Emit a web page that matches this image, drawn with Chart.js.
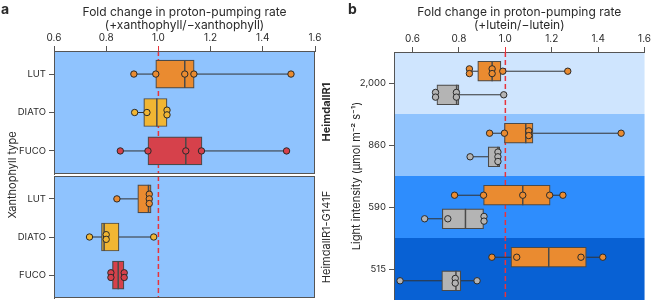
<!DOCTYPE html>
<html><head><meta charset="utf-8">
<script src="https://cdn.jsdelivr.net/npm/chart.js@4.4.1/dist/chart.umd.min.js"></script>
<style>
html,body{margin:0;padding:0;background:#fff;}
#wrap{position:relative;width:653px;height:300px;overflow:hidden;font-family:Inter,'Liberation Sans',sans-serif;color:#2a2a2a;}
.box{position:absolute;}
.box canvas{display:block;}
.rw{position:absolute;width:0;height:0;}
.rw div{position:absolute;left:-150px;top:-7px;width:300px;text-align:center;white-space:nowrap;line-height:14px;transform:rotate(-90deg);transform-origin:150px 7px;}
.lab{position:absolute;font-weight:700;font-size:14px;line-height:1;}
</style></head><body>
<div id="wrap">
  <div class="box" style="left:0;top:0;width:330px;height:175px"><canvas id="ca1" width="330" height="175"></canvas></div>
  <div class="box" style="left:0;top:175px;width:330px;height:125px"><canvas id="ca2" width="330" height="125"></canvas></div>
  <div class="box" style="left:330px;top:0;width:323px;height:300px"><canvas id="cb" width="323" height="300"></canvas></div>
  <div class="lab" style="left:1px;top:2px">a</div>
  <div class="lab" style="left:348px;top:2px">b</div>
  <div class="rw" style="left:12px;top:175px;font-size:11px"><div>Xanthophyll type</div></div>
  <div class="rw" style="left:326px;top:112px;font-size:11px;font-weight:700"><div id="s1"></div></div>
  <div class="rw" style="left:326px;top:237px;font-size:11px"><div id="s2"></div></div>
</div>
<script>
// ---------- data ----------
const xTickVals = [0.6, 0.8, 1.0, 1.2, 1.4, 1.6];
const xTickLabels = ['0.6', '0.8', '1.0', '1.2', '1.4', '1.6'];
const xanthophylls = ['LUT', 'DIATO', 'FUCO'];
const strains = ['HeimdallR1', 'HeimdallR1-G141F'];
const titleA = ['Fold change in proton-pumping rate', '(+xanthophyll/−xanthophyll)'];
const titleB = ['Fold change in proton-pumping rate', '(+lutein/−lutein)'];
const yTitleB = 'Light intensity (µmol m⁻² s⁻¹)';

// HeimdallR1 (box stats and individual points per xanthophyll)
const wtMin = [0.906, 0.909, 0.854];
const wtQ1 = [0.990, 0.944, 0.960];
const wtMed = [1.101, 0.994, 1.105];
const wtQ3 = [1.137, 1.033, 1.167];
const wtMax = [1.508, 1.033, 1.491];
const wtPoints = [
  [0.906, 0.990, 1.101, 1.136, 1.508],
  [0.909, 0.956, 1.033, 1.033],
  [0.854, 0.960, 1.105, 1.165, 1.491]
];

// HeimdallR1-G141F
const mutMin = [0.841, 0.736, 0.818];
const mutQ1 = [0.921, 0.782, 0.824];
const mutMed = [0.962, 0.792, 0.846];
const mutQ3 = [0.972, 0.849, 0.868];
const mutMax = [0.972, 0.982, 0.869];
const mutPoints = [
  [0.841, 0.965, 0.965, 0.965],
  [0.736, 0.800, 0.800, 0.982],
  [0.818, 0.818, 0.869, 0.869]
];

// Panel b: light intensities
const intensities = ['2,000', '860', '590', '515'];
// orange boxes
const orMin = [0.845, 0.932, 0.781, 0.942];
const orQ1 = [0.881, 0.996, 0.906, 1.024];
const orMed = [0.943, 1.088, 1.075, 1.187];
const orQ3 = [0.981, 1.119, 1.193, 1.349];
const orMax = [1.269, 1.499, 1.248, 1.420];
const orPoints = [
  [0.845, 0.845, 0.943, 0.943, 0.989, 1.269],
  [0.932, 0.996, 1.101, 1.101, 1.499],
  [0.781, 0.906, 1.075, 1.191, 1.248],
  [0.942, 1.049, 1.326, 1.420]
];
// grey boxes
const grMin = [0.699, 0.848, 0.652, 0.546];
const grQ1 = [0.705, 0.926, 0.728, 0.726];
const grMed = [0.790, 0.968, 0.828, 0.787];
const grQ3 = [0.800, 0.976, 0.906, 0.808];
const grMax = [0.993, 0.976, 0.906, 0.878];
const grPoints = [
  [0.699, 0.699, 0.789, 0.789, 0.993],
  [0.848, 0.968, 0.968, 0.968],
  [0.652, 0.752, 0.908, 0.908],
  [0.546, 0.784, 0.784, 0.878]
];

// ---------- styles ----------
const xanthColors = ['#EA8B30', '#F1B633', '#D6414B'];
const orangeColor = '#EA8B30';
const greyColor = '#B4B4B4';
const panelBg = '#8FC3FE';
const bandColors = ['#CFE5FE', '#8FC3FE', '#2E8DFD', '#0861D4'];
const refRed = '#E8333C';
const edge = '#4A4A4A';
const axisGrey = '#555555';
const textCol = '#2a2a2a';

document.getElementById('s1').textContent = strains[0];
document.getElementById('s2').textContent = strains[1];

Chart.defaults.font.family = "Inter, 'Liberation Sans', sans-serif";
Chart.defaults.color = textCol;

function dodge(values, step) {
  const groups = {};
  values.forEach((v, i) => { const k = v.toFixed(3); (groups[k] = groups[k] || []).push(i); });
  const off = new Array(values.length).fill(0);
  Object.values(groups).forEach(idx => idx.forEach((i, j) => { off[i] = (j - (idx.length - 1) / 2) * step; }));
  return off;
}

function boxDatasets(o) {
  const ds = [];
  o.pos.forEach((p, i) => {
    ds.push({type: 'line', showLine: true, data: [{x: o.mins[i], y: p}, {x: o.maxs[i], y: p}],
      borderColor: '#333', borderWidth: 1, pointRadius: 0, order: 3});
  });
  ds.push({type: 'bar', indexAxis: 'y', grouped: false, barThickness: o.thick,
    data: o.pos.map((p, i) => ({x: [o.q1s[i], o.q3s[i]], y: p})),
    backgroundColor: o.colors, borderColor: edge, borderWidth: 1.2, borderSkipped: false, order: 2});
  ds.push({type: 'scatter', data: o.pos.map((p, i) => ({x: o.meds[i], y: p})),
    pointStyle: 'line', rotation: 90, pointRadius: o.thick / 2, borderColor: edge, borderWidth: 1.5, order: 1});
  o.pos.forEach((p, i) => {
    const off = dodge(o.points[i], o.step);
    ds.push({type: 'scatter', data: o.points[i].map((v, j) => ({x: v, y: p + off[j]})),
      pointRadius: 3.2, backgroundColor: o.colors[i], borderColor: '#2a2a2a', borderWidth: 1, order: 0});
  });
  return ds;
}

function refLine(y0, y1) {
  return {type: 'line', showLine: true, data: [{x: 1, y: y0}, {x: 1, y: y1}], borderColor: refRed,
    borderWidth: 1.5, borderDash: [5, 3], pointRadius: 0, order: 4};
}

function tickColor(ctx) { return ctx.tick && Math.abs(ctx.tick.value - 1) < 1e-9 ? refRed : axisGrey; }

function xScale(min, show, height, title) {
  return {type: 'linear', position: 'top', min: min, max: 1.6, display: show, offset: false, grace: 0,
    afterBuildTicks: s => { s.ticks = xTickVals.map(v => ({value: v})); },
    afterFit: s => { s.height = height; s.paddingTop = 0; s.paddingBottom = 0; },
    title: {display: !!title, text: title || '', color: textCol, font: {size: 12, lineHeight: 1.08}, padding: {top: 5.5, bottom: 0}},
    ticks: {callback: (v) => xTickLabels[xTickVals.findIndex(t => Math.abs(t - v) < 1e-9)], font: {size: 10}, padding: 2, maxRotation: 0, autoSkip: false},
    grid: {drawOnChartArea: false, tickLength: 5, color: tickColor, lineWidth: 1, offset: false},
    border: {color: axisGrey, width: 1}};
}

function yScale(min, max, labels, width, title, titlePad) {
  return {type: 'linear', reverse: true, min: min, max: max, offset: false, grace: 0,
    afterBuildTicks: s => { s.ticks = labels.map((l, i) => ({value: i})); },
    afterFit: s => { s.width = width; s.paddingTop = 0; s.paddingBottom = 0; },
    title: {display: !!title, text: title || '', color: textCol, font: {size: 11, lineHeight: 1.2}, padding: {top: titlePad || 0, bottom: 0}},
    ticks: {callback: (v) => labels[v], font: {size: 9.5}, padding: 3, autoSkip: false},
    grid: {drawOnChartArea: false, tickLength: 5, color: axisGrey, offset: false},
    border: {color: axisGrey, width: 1}};
}

const panelPlugin = {
  id: 'panelBg',
  beforeDraw(chart) {
    const {ctx, chartArea: a} = chart;
    ctx.save(); ctx.fillStyle = panelBg; ctx.fillRect(a.left, a.top, a.right - a.left, a.bottom - a.top); ctx.restore();
  },
  afterDraw(chart) {
    const {ctx, chartArea: a} = chart;
    ctx.save(); ctx.strokeStyle = axisGrey; ctx.lineWidth = 1;
    ctx.strokeRect(a.left + 0.5, a.top + 0.5, a.right - a.left - 1, a.bottom - a.top - 1); ctx.restore();
  }
};

const baseOpts = {responsive: false, animation: false, events: [], devicePixelRatio: 1,
  plugins: {legend: {display: false}, tooltip: {enabled: false}}};

// Panel a, HeimdallR1
new Chart(document.getElementById('ca1'), {
  type: 'scatter',
  data: {datasets: [refLine(-0.6, 2.6)].concat(boxDatasets({
    pos: [0, 1, 2], mins: wtMin, q1s: wtQ1, meds: wtMed, q3s: wtQ3, maxs: wtMax, points: wtPoints,
    colors: xanthColors, thick: 28, step: 0.123}))},
  options: Object.assign({}, baseOpts, {
    layout: {autoPadding: false, padding: {right: 15, bottom: 1, top: 0, left: 0}},
    scales: {x: xScale(0.6, true, 51, titleA), y: yScale(-0.6, 2.6, xanthophylls, 54)}}),
  plugins: [panelPlugin]
});

// Panel a, HeimdallR1-G141F
new Chart(document.getElementById('ca2'), {
  type: 'scatter',
  data: {datasets: [refLine(-0.6, 2.6)].concat(boxDatasets({
    pos: [0, 1, 2], mins: mutMin, q1s: mutQ1, meds: mutMed, q3s: mutQ3, maxs: mutMax, points: mutPoints,
    colors: xanthColors, thick: 28, step: 0.123}))},
  options: Object.assign({}, baseOpts, {
    layout: {autoPadding: false, padding: {right: 15, bottom: 2, top: 1, left: 0}},
    scales: {x: xScale(0.6, false, 0), y: yScale(-0.6, 2.6, xanthophylls, 54)}}),
  plugins: [panelPlugin]
});

// Panel b
const bandPlugin = {
  id: 'bands',
  beforeDraw(chart) {
    const {ctx, chartArea: a, scales: {y}} = chart;
    ctx.save();
    bandColors.forEach((c, i) => {
      const t = y.getPixelForValue(i - 0.5), b = y.getPixelForValue(i + 0.5);
      ctx.fillStyle = c; ctx.fillRect(a.left, Math.min(t, b), a.right - a.left, Math.abs(b - t));
    });
    ctx.restore();
  }
};
const posB = intensities.map((_, i) => i);
new Chart(document.getElementById('cb'), {
  type: 'scatter',
  data: {datasets: [refLine(-0.5, 3.5)]
    .concat(boxDatasets({pos: posB.map(p => p - 0.19), mins: orMin, q1s: orQ1, meds: orMed, q3s: orQ3, maxs: orMax,
      points: orPoints, colors: intensities.map(() => orangeColor), thick: 20, step: 0.076}))
    .concat(boxDatasets({pos: posB.map(p => p + 0.19), mins: grMin, q1s: grQ1, meds: grMed, q3s: grQ3, maxs: grMax,
      points: grPoints, colors: intensities.map(() => greyColor), thick: 20, step: 0.076}))},
  options: Object.assign({}, baseOpts, {
    layout: {autoPadding: false, padding: {right: 5, bottom: 0, top: 0, left: 0}},
    scales: {x: xScale(0.52, true, 52, titleB), y: yScale(-0.5, 3.5, intensities, 64, yTitleB, 20.5)}}),
  plugins: [bandPlugin]
});
</script>
</body></html>
